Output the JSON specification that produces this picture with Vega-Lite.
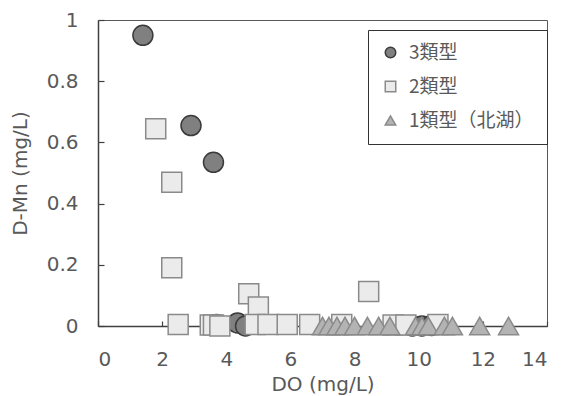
{
  "$schema": "https://vega.github.io/schema/vega-lite/v6.json",
  "autosize": "none",
  "width": 449,
  "height": 306,
  "padding": {"left": 98, "top": 20, "right": 15, "bottom": 70},
  "background": "white",
  "config": {
    "view": {"stroke": "#595959", "strokeWidth": 1},
    "axis": {
      "grid": false,
      "domainColor": "#404040",
      "domainWidth": 1.5,
      "tickColor": "#404040",
      "tickWidth": 1.2,
      "labelFont": "DejaVu Sans",
      "labelFontSize": 20,
      "labelColor": "#595959",
      "titleFont": "DejaVu Sans",
      "titleFontSize": 20,
      "titleFontWeight": "normal",
      "titleColor": "#595959"
    }
  },
  "data": {
    "values": [
      {"type": "3類型", "DO": 1.4, "Mn": 0.95},
      {"type": "3類型", "DO": 2.9, "Mn": 0.655},
      {"type": "3類型", "DO": 3.6, "Mn": 0.535},
      {"type": "3類型", "DO": 3.7, "Mn": 0.005},
      {"type": "3類型", "DO": 4.35, "Mn": 0.01},
      {"type": "3類型", "DO": 4.6, "Mn": 0.0},
      {"type": "3類型", "DO": 9.8, "Mn": 0.0},
      {"type": "3類型", "DO": 10.1, "Mn": 0.0},
      {"type": "3類型", "DO": 10.4, "Mn": 0.002},
      {"type": "2類型", "DO": 1.8, "Mn": 0.645},
      {"type": "2類型", "DO": 2.3, "Mn": 0.47},
      {"type": "2類型", "DO": 2.3, "Mn": 0.19},
      {"type": "2類型", "DO": 2.5, "Mn": 0.005},
      {"type": "2類型", "DO": 3.5, "Mn": 0.003},
      {"type": "2類型", "DO": 3.6, "Mn": 0.003},
      {"type": "2類型", "DO": 3.8, "Mn": 0.0},
      {"type": "2類型", "DO": 4.7, "Mn": 0.105},
      {"type": "2類型", "DO": 5.0, "Mn": 0.062},
      {"type": "2類型", "DO": 4.9, "Mn": 0.005},
      {"type": "2類型", "DO": 5.3, "Mn": 0.005},
      {"type": "2類型", "DO": 5.9, "Mn": 0.005},
      {"type": "2類型", "DO": 6.6, "Mn": 0.005},
      {"type": "2類型", "DO": 7.6, "Mn": 0.005},
      {"type": "2類型", "DO": 8.44, "Mn": 0.113},
      {"type": "2類型", "DO": 9.2, "Mn": 0.003},
      {"type": "2類型", "DO": 9.6, "Mn": 0.003},
      {"type": "2類型", "DO": 10.6, "Mn": 0.005},
      {"type": "1類型（北湖）", "DO": 7.0, "Mn": 0.0},
      {"type": "1類型（北湖）", "DO": 7.2, "Mn": 0.0},
      {"type": "1類型（北湖）", "DO": 7.45, "Mn": 0.0},
      {"type": "1類型（北湖）", "DO": 7.7, "Mn": 0.0},
      {"type": "1類型（北湖）", "DO": 8.0, "Mn": 0.0},
      {"type": "1類型（北湖）", "DO": 8.4, "Mn": 0.0},
      {"type": "1類型（北湖）", "DO": 8.75, "Mn": 0.0},
      {"type": "1類型（北湖）", "DO": 9.1, "Mn": 0.0},
      {"type": "1類型（北湖）", "DO": 9.9, "Mn": 0.0},
      {"type": "1類型（北湖）", "DO": 10.1, "Mn": 0.0},
      {"type": "1類型（北湖）", "DO": 10.3, "Mn": 0.0},
      {"type": "1類型（北湖）", "DO": 10.8, "Mn": 0.0},
      {"type": "1類型（北湖）", "DO": 11.05, "Mn": 0.0},
      {"type": "1類型（北湖）", "DO": 11.9, "Mn": 0.0},
      {"type": "1類型（北湖）", "DO": 12.8, "Mn": 0.0}
    ]
  },
  "mark": {"type": "point", "filled": true, "size": 400, "strokeWidth": 1.5, "opacity": 1},
  "encoding": {
    "x": {
      "field": "DO",
      "type": "quantitative",
      "title": "DO (mg/L)",
      "scale": {"domain": [0, 14], "nice": false, "zero": false},
      "axis": {"values": [0, 2, 4, 6, 8, 10, 12, 14], "tickSize": -5, "labelPadding": 28, "titlePadding": 5}
    },
    "y": {
      "field": "Mn",
      "type": "quantitative",
      "title": "D-Mn (mg/L)",
      "scale": {"domain": [0, 1], "nice": false},
      "axis": {"values": [0, 0.2, 0.4, 0.6, 0.8, 1], "format": "~g", "tickSize": -6, "labelPadding": 26, "titlePadding": 16}
    },
    "shape": {
      "field": "type",
      "type": "nominal",
      "scale": {"domain": ["3類型", "2類型", "1類型（北湖）"], "range": ["circle", "square", "triangle-up"]},
      "legend": {
        "title": null,
        "orient": "none",
        "legendX": 270,
        "legendY": 10,
        "strokeColor": "#333333",
        "padding": 13,
        "labelFont": "Noto Sans CJK JP",
        "labelFontSize": 19,
        "labelColor": "#595959",
        "symbolSize": 110,
        "symbolStrokeWidth": 1.5,
        "rowPadding": 14,
        "labelOffset": 9
      }
    },
    "fill": {
      "field": "type",
      "type": "nominal",
      "scale": {"domain": ["3類型", "2類型", "1類型（北湖）"], "range": ["#808080", "#ebebeb", "#b3b3b3"]}
    },
    "stroke": {
      "field": "type",
      "type": "nominal",
      "scale": {"domain": ["3類型", "2類型", "1類型（北湖）"], "range": ["#3a3a3a", "#8a8a8a", "#8a8a8a"]}
    }
  }
}
